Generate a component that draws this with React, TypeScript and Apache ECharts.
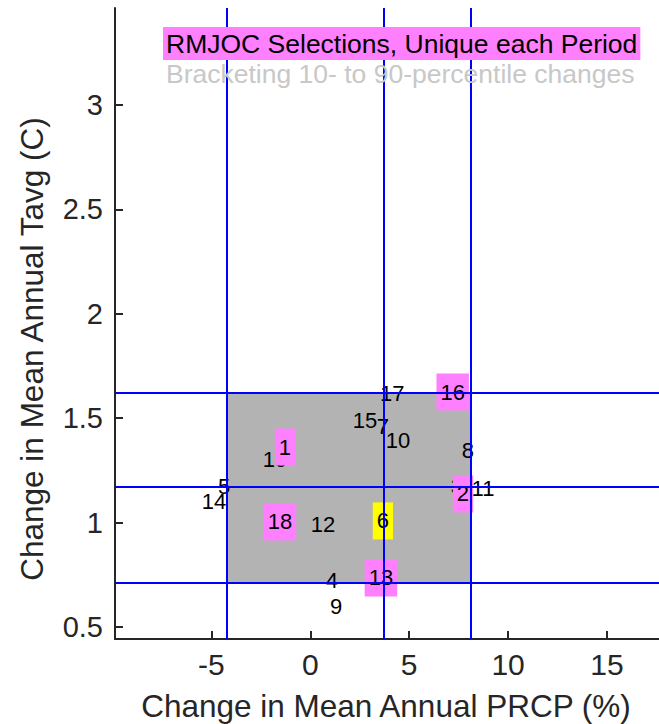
import React, { useEffect, useRef } from "react";
import * as echarts from "echarts";

// Model labels and their projected changes
const modelLabels = ["1", "2", "3", "4", "5", "6", "7", "8", "9", "10", "11", "12", "13", "14", "15", "16", "17", "18", "19"];
const prcpChange = [-1.28, 7.72, 7.41, 1.09, -4.36, 3.67, 3.67, 7.97, 1.3, 4.43, 8.73, 0.64, 3.57, -4.87, 2.77, 7.2, 4.14, -1.53, -1.78];
const tavgChange = [1.362, 1.137, 1.175, 0.725, 1.175, 1.008, 1.458, 1.343, 0.596, 1.391, 1.161, 0.989, 0.735, 1.099, 1.487, 1.625, 1.616, 1.003, 1.3];

const selectedModels = ["1", "2", "13", "16", "18"];
const highlightModels = ["6"];

// 10th, 50th, 90th percentile brackets
const prcpBrackets = [-4.24, 3.7, 8.1];
const tavgBrackets = [0.711, 1.166, 1.616];

const xTicks = [-5, 0, 5, 10, 15];
const yTicks = [0.5, 1, 1.5, 2, 2.5, 3];

const titleText = "RMJOC Selections, Unique each Period";
const subtitleText = "Bracketing 10- to 90-percentile changes";
const xTitle = "Change in Mean Annual PRCP (%)";
const yTitle = "Change in Mean Annual Tavg (C)";

const FONT = "Liberation Sans, Arial, sans-serif";

function labelSeries(names: string[], z: number, bg: string | null) {
  const data = names.map((m) => {
    const i = modelLabels.indexOf(m);
    return [prcpChange[i], tavgChange[i]];
  });
  return {
    type: "custom",
    z,
    silent: true,
    data,
    encode: { x: 0, y: 1 },
    renderItem: (params: any, api: any) => {
      const pt = api.coord([api.value(0), api.value(1)]);
      const style: any = {
        text: names[params.dataIndex],
        font: `22px ${FONT}`,
        fill: "#000",
        align: "center",
        verticalAlign: "middle",
      };
      if (bg) {
        style.backgroundColor = bg;
        style.padding = [8, 4, 7, 4];
      }
      return { type: "text", x: pt[0], y: pt[1], style };
    },
  };
}

export default function App() {
  const ref = useRef<HTMLDivElement>(null);
  useEffect(() => {
    if (!ref.current) return;
    const chart = echarts.init(ref.current, undefined, { renderer: "svg" });

    const plainNames = modelLabels.filter((m) => !selectedModels.includes(m) && !highlightModels.includes(m));

    const option: any = {
      animation: false,
      backgroundColor: "#fff",
      title: [
        {
          text: titleText,
          left: 163,
          top: 27,
          padding: [3, 3],
          backgroundColor: "#ff80ff",
          textStyle: { fontFamily: FONT, fontSize: 26.5, fontWeight: "normal", color: "#000" },
          z: 10,
        },
        {
          text: subtitleText,
          left: 166,
          top: 60,
          padding: 0,
          textStyle: { fontFamily: FONT, fontSize: 26.5, fontWeight: "normal", color: "#c8c8c8" },
          z: 10,
        },
      ],
      grid: { left: 115, top: 8, right: 0, bottom: 85, containLabel: false },
      xAxis: {
        type: "value",
        min: -9.874,
        max: 17.63,
        splitLine: { show: false },
        axisLine: { show: true, onZero: false, lineStyle: { color: "#262626", width: 2 } },
        axisTick: { show: true, inside: true, length: 8, customValues: xTicks, lineStyle: { color: "#262626", width: 2 } },
        axisLabel: { customValues: xTicks, margin: 10, fontFamily: FONT, fontSize: 30, color: "#262626" },
      },
      yAxis: {
        type: "value",
        min: 0.4425,
        max: 3.4646,
        splitLine: { show: false },
        axisLine: { show: true, onZero: false, lineStyle: { color: "#262626", width: 2 } },
        axisTick: { show: true, inside: true, length: 8, customValues: yTicks, lineStyle: { color: "#262626", width: 2 } },
        axisLabel: { customValues: yTicks, margin: 12, fontFamily: FONT, fontSize: 29, color: "#262626" },
      },
      graphic: [
        {
          type: "text",
          x: 386,
          y: 706,
          z: 10,
          style: { text: xTitle, font: `31.5px ${FONT}`, fill: "#262626", align: "center", verticalAlign: "middle" },
        },
        {
          type: "text",
          x: 32,
          y: 349,
          z: 10,
          rotation: Math.PI / 2,
          style: { text: yTitle, font: `31.5px ${FONT}`, fill: "#262626", align: "center", verticalAlign: "middle" },
        },
      ],
      series: [
        {
          type: "scatter",
          data: [],
          z: 1,
          silent: true,
          markArea: {
            silent: true,
            itemStyle: { color: "#b3b3b3", opacity: 1 },
            data: [[{ coord: [prcpBrackets[0], tavgBrackets[0]] }, { coord: [prcpBrackets[2], tavgBrackets[2]] }]],
          },
        },
        labelSeries(plainNames, 2, null),
        {
          type: "scatter",
          data: [],
          z: 3,
          silent: true,
          markLine: {
            silent: true,
            symbol: "none",
            label: { show: false },
            lineStyle: { color: "#0000ff", width: 2, type: "solid" },
            data: [
              ...prcpBrackets.map((v) => ({ xAxis: v })),
              ...tavgBrackets.map((v) => ({ yAxis: v })),
            ],
          },
        },
        labelSeries(selectedModels, 4, "#ff80ff"),
        labelSeries(highlightModels, 4, "#ffff00"),
      ],
    };
    chart.setOption(option);
    return () => chart.dispose();
  }, []);
  return <div ref={ref} style={{ position: "absolute", left: 0, top: 0, width: 659, height: 724 }} />;
}
